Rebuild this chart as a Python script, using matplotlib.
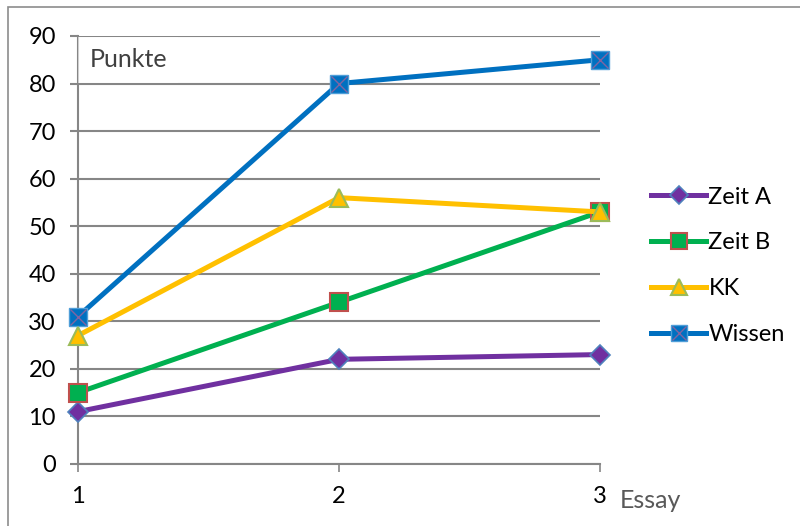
import matplotlib.pyplot as plt
from matplotlib.patches import Rectangle
from matplotlib.legend_handler import HandlerTuple

plt.rcParams['font.family'] = ['Lato', 'DejaVu Sans']

essays = [1, 2, 3]
zeit_a = [11, 22, 23]
zeit_b = [15, 34, 53]
kk = [27, 56, 53]
wissen = [31, 80, 85]

grid_col = '#868686'
fs = 17

fig = plt.figure(figsize=(8, 5.26), dpi=100)
ax = fig.add_axes([0.0975, 0.118, 0.6525, 0.8136])

# outer frame of the chart
fig.patches.append(Rectangle((0.01, -0.05), 1.1, 1.037, transform=fig.transFigure,
                             fill=False, edgecolor='#8c8c8c', linewidth=1.2))

lw = 3.6
ms = 13
l_a, = ax.plot(essays, zeit_a, color='#7030A0', lw=lw, marker='D', ms=ms * 0.8,
               mfc='#7030A0', mec='#4F81BD', mew=1.2, clip_on=False, zorder=5)
l_b, = ax.plot(essays, zeit_b, color='#00B050', lw=lw, marker='s', ms=ms,
               mfc='#00B050', mec='#C0504D', mew=1.5, clip_on=False, zorder=5)
l_k, = ax.plot(essays, kk, color='#FFC000', lw=lw, marker='^', ms=ms,
               mfc='#FFC000', mec='#9BBB59', mew=1.5, clip_on=False, zorder=6)
l_w, = ax.plot(essays, wissen, color='#0070C0', lw=lw, marker='s', ms=ms,
               mfc='#0070C0', mec='#4F9ED8', mew=1.0, clip_on=False, zorder=5)
x_w, = ax.plot(essays, wissen, ls='none', marker='x', ms=ms * 0.85,
               mec='#8064A2', mew=1.0, clip_on=False, zorder=7)

ax.set_xlim(1, 3)
ax.set_ylim(0, 90)
ax.set_yticks(range(0, 91, 10))
ax.set_xticks(essays)
ax.yaxis.grid(True, color=grid_col, lw=1.5)
ax.set_axisbelow(True)
for s in ['top', 'right']:
    ax.spines[s].set_visible(False)
for s in ['left', 'bottom']:
    ax.spines[s].set_color(grid_col)
    ax.spines[s].set_linewidth(1.5)
ax.tick_params(axis='y', length=6, width=1.5, color=grid_col, labelsize=fs, pad=10)
ax.tick_params(axis='x', length=6, width=1.2, color=grid_col, labelsize=fs, pad=10)

ax.text(0.022, 85, 'Punkte', fontsize=18, color='#404040', va='center', ha='left',
        transform=ax.get_yaxis_transform(),
        bbox=dict(boxstyle='square,pad=0.45', fc='white', ec='none', alpha=0.6), zorder=4)
ax.text(3.075, -7.6, 'Essay', fontsize=18, color='#595959', va='center', ha='left',
        clip_on=False)

ax.legend([l_a, l_b, l_k, (l_w, x_w)], ['Zeit A', 'Zeit B', 'KK', 'Wissen'],
          handler_map={tuple: HandlerTuple(ndivide=1)},
          loc='center left', bbox_to_anchor=(1.057, 0.463), frameon=False,
          fontsize=fs, handlelength=2.33, handletextpad=0.1, labelspacing=1.05,
          markerscale=0.85)

fig.savefig('out.png', dpi=100)
